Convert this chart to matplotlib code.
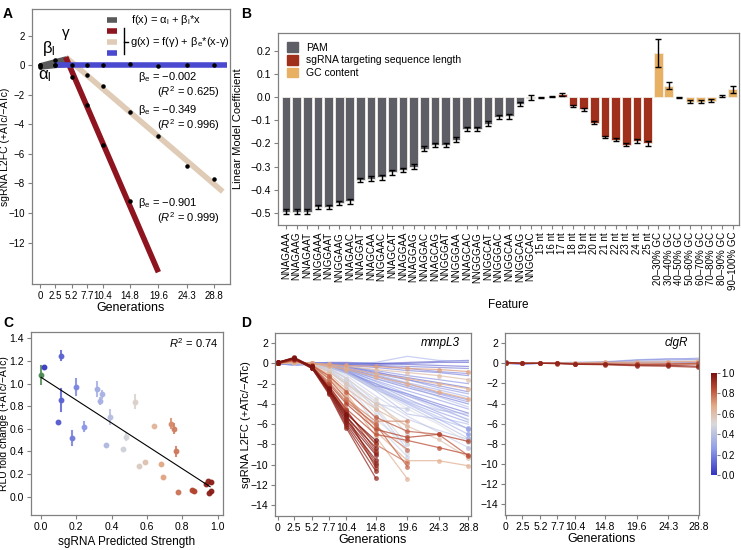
import numpy as np
import matplotlib
matplotlib.use("Agg")
import matplotlib.pyplot as plt
from matplotlib.colors import LinearSegmentedColormap, Normalize
from matplotlib.cm import ScalarMappable
from matplotlib.patches import Patch

plt.rcParams['font.family'] = ['Liberation Sans', 'DejaVu Sans']
plt.rcParams['mathtext.fontset'] = 'custom'
plt.rcParams['mathtext.rm'] = 'Liberation Sans'
plt.rcParams['mathtext.it'] = 'Liberation Sans:italic'
plt.rcParams['axes.edgecolor'] = '#808080'
plt.rcParams['axes.linewidth'] = 0.9
plt.rcParams['xtick.color'] = '#808080'
plt.rcParams['ytick.color'] = '#808080'
plt.rcParams['xtick.labelcolor'] = 'black'
plt.rcParams['ytick.labelcolor'] = 'black'

# ---- data ----
gens = [0, 2.5, 5.2, 7.7, 10.4, 14.8, 19.6, 24.3, 28.8]
gen_labels = ['0', '2.5', '5.2', '7.7', '10.4', '14.8', '19.6', '24.3', '28.8']

# panel A: example sgRNAs (dots) and piecewise fits
a_init_x = [0, 0, 2.5, 2.5]
a_init_y = [0.0, -0.12, 0.35, 0.02]
a_weak = [0.0, 0.0, 0.02, 0.02, 0.02, 0.05, -0.05, -0.02, 0.02]
a_mid = [np.nan, np.nan, np.nan, -0.69, -1.4, -3.16, -4.8, -6.8, -7.69]
a_strong = [np.nan, np.nan, -0.82, -2.67, -5.4, -9.16, np.nan, np.nan, np.nan]
lag_x = [0, 4.2]
lag_lo = [-0.18, 0.0]
lag_hi = [0.1, 0.55]
fit_weak_x, fit_weak_y = [2.5, 31.0], [0.02, 0.02]
fit_mid_x, fit_mid_y = [4.2, 30.3], [0.55, -8.55]
fit_strong_x, fit_strong_y = [4.2, 19.6], [0.55, -14.0]
beta_e = ['\u22120.002', '\u22120.349', '\u22120.901']
r2_vals = ['0.625', '0.996', '0.999']

# panel B: linear model coefficients
features = ['NNAGAAA', 'NNAGAAG', 'NNAGAAT', 'NNGGAAA', 'NNGGAAT', 'NNGGAAG', 'NNAGAAC',
            'NNAGGAT', 'NNAGCAA', 'NNGGAAC', 'NNAGCAT', 'NNAGGAA', 'NNAGGAG', 'NNAGGAC',
            'NNAGCAG', 'NNGGGAT', 'NNGGGAA', 'NNAGCAC', 'NNGGGAG', 'NNGGCAT', 'NNGGGAC',
            'NNGGCAA', 'NNGGCAG', 'NNGGCAC',
            '15 nt', '16 nt', '17 nt', '18 nt', '19 nt', '20 nt', '21 nt', '22 nt', '23 nt',
            '24 nt', '25 nt',
            '20\u201330% GC', '30\u201340% GC', '40\u201350% GC', '50\u201360% GC',
            '60\u201370% GC', '70\u201380% GC', '80\u201390% GC', '90\u2013100% GC']
pam_coef = [-0.495, -0.495, -0.495, -0.475, -0.475, -0.458, -0.45, -0.358, -0.352, -0.347,
            -0.325, -0.315, -0.30, -0.222, -0.207, -0.207, -0.183, -0.137, -0.137, -0.114,
            -0.085, -0.083, -0.03, -0.002]
len_coef = [0.0, 0.003, 0.012, -0.038, -0.053, -0.11, -0.172, -0.183, -0.205, -0.188, -0.2]
gc_coef = [0.19, 0.05, 0.0, -0.02, -0.02, -0.015, 0.004, 0.035]
pam_err = [0.01] * 24
len_err = [0.002, 0.002, 0.006, 0.005, 0.006, 0.006, 0.006, 0.006, 0.008, 0.008, 0.01]
gc_err = [0.06, 0.015, 0.002, 0.007, 0.007, 0.006, 0.005, 0.015]

# panel C: luciferase validation
c_strength = [0.0, 0.017, 0.115, 0.113, 0.096, 0.177, 0.2, 0.243, 0.319, 0.336, 0.347, 0.39,
              0.366, 0.466, 0.481, 0.534, 0.553, 0.59, 0.638, 0.68, 0.689, 0.734, 0.753, 0.762,
              0.774, 0.857, 0.866, 0.936, 0.943, 0.96, 0.951, 0.962]
c_rlu = [1.076, 1.143, 1.247, 0.855, 0.657, 0.519, 0.97, 0.619, 0.952, 0.846, 0.905, 0.704,
         0.454, 0.421, 0.53, 0.84, 0.271, 0.304, 0.622, 0.289, 0.177, 0.643, 0.601, 0.401,
         0.041, 0.059, 0.053, 0.109, 0.141, 0.13, 0.032, 0.05]
c_err = [0.077, 0.0, 0.04, 0.1, 0.0, 0.06, 0.07, 0.04, 0.06, 0.03, 0.03, 0.06, 0.0, 0.0, 0.03,
         0.06, 0.0, 0.0, 0.0, 0.0, 0.0, 0.04, 0.04, 0.04, 0.0, 0.0, 0.0, 0.0, 0.0, 0.0, 0.0, 0.0]
c_fit = [1.055, -1.01]   # intercept, slope
c_fit_x = [0.0, 0.957]

# panel D: sgRNA depletion curves
mmpl3_strength = [0.99, 0.98, 0.97, 0.96, 0.95, 0.94, 0.93, 0.92, 0.91, 0.90, 0.89, 0.87,
                  0.86, 0.84, 0.80, 0.78, 0.82, 0.76, 0.74,
                  0.66, 0.62, 0.64, 0.70, 0.66, 0.60, 0.68, 0.58,
                  0.50, 0.52, 0.48, 0.46,
                  0.38, 0.36, 0.40, 0.30, 0.35, 0.32, 0.34, 0.40, 0.42, 0.28, 0.37, 0.33,
                  0.05, 0.10, 0.15, 0.12, 0.18, 0.20, 0.15, 0.08, 0.02, 0.22, 0.25, 0.10,
                  0.08, 0.30, 0.05, 0.12, 0.03, 0.18, 0.24, 0.14, 0.26, 0.20]
mmpl3_l2fc = [
    [0.10, 0.55, -0.30, -2.40, -5.00, -7.60],
    [0.05, 0.50, -0.40, -2.60, -5.30, -8.30],
    [0.10, 0.60, -0.30, -2.50, -5.60, -9.00],
    [0.00, 0.45, -0.50, -2.80, -5.80, -9.50],
    [0.10, 0.50, -0.40, -2.70, -6.00, -10.00],
    [0.05, 0.55, -0.45, -2.90, -6.20, -10.60],
    [0.00, 0.50, -0.50, -3.00, -6.40, -11.30],
    [0.10, 0.50, -0.35, -2.50, -5.20, -8.80],
    [0.10, 0.55, -0.40, -2.60, -4.80, -7.90],
    [0.00, 0.45, -0.50, -2.70, -5.50, -9.80],
    [0.05, 0.50, -0.40, -2.40, -5.10, -10.30],
    [0.05, 0.45, -0.30, -2.20, -4.60, -8.60],
    [0.00, 0.40, -0.30, -2.00, -4.00, -6.50, -7.30, -7.00, -7.70],
    [0.00, 0.40, -0.40, -2.20, -4.50, -7.00, -7.60, -8.30, -9.00],
    [0.00, 0.30, -0.30, -1.80, -3.80, -6.00, -10.20],
    [0.00, 0.40, -0.40, -2.30, -4.80, -8.00, -9.80],
    [0.00, 0.30, -0.20, -1.20, -2.80, -5.30, -6.70, -7.00, -9.10],
    [0.00, 0.30, -0.20, -1.50, -3.50, -6.20, -8.50],
    [0.00, 0.30, -0.20, -1.50, -3.50, -5.70, -5.70],
    [0.00, 0.30, -0.10, -1.20, -3.00, -6.70, -9.60, -9.60, -10.10],
    [0.00, 0.20, -0.20, -1.00, -2.50, -4.50, -6.20],
    [0.00, 0.30, -0.20, -1.30, -3.20, -7.20, -11.40],
    [0.00, 0.10, 0.00, -0.10, -0.20, -0.30, -0.50, -0.60, -0.80],
    [0.00, 0.10, 0.00, -0.20, -0.50, -1.00, -1.50, -2.00, -2.50],
    [0.00, 0.10, 0.00, -0.10, -0.30, -0.60, -0.90, -1.20, -1.60],
    [0.00, 0.20, 0.00, -0.30, -0.60, -1.30, -2.00, -2.80, -3.50],
    [0.00, 0.20, -0.10, -0.80, -2.00, -4.00, -6.20, -7.50, -9.30],
    [0.00, 0.10, -0.10, -0.80, -2.00, -4.30, -8.00],
    [0.00, 0.10, 0.00, -0.50, -1.50, -3.50, -7.00],
    [0.00, 0.10, 0.00, -0.30, -1.00, -2.50, -4.50, -6.00, -7.80],
    [0.00, 0.05, 0.00, -0.60, -1.80, -5.00, -8.80],
    [0.00, 0.00, -0.10, -0.60, -1.80, -4.00, -4.50],
    [0.00, 0.00, 0.00, -0.50, -1.50, -4.50, -8.50],
    [0.00, 0.00, -0.10, -0.80, -2.20, -6.00, -9.20],
    [0.00, 0.00, 0.00, -0.30, -1.00, -2.70, -5.00, -5.50, -6.40],
    [0.00, 0.00, 0.00, -0.20, -0.70, -2.00, -3.20, -4.50, -5.50],
    [0.00, 0.00, 0.00, -0.10, -0.50, -1.50, -2.20, -3.30, -4.30],
    [0.00, 0.00, 0.00, -0.20, -0.80, -2.50, -4.20, -5.80, -7.40],
    [0.00, 0.00, -0.10, -0.40, -1.20, -3.20, -5.20, -6.80, -8.30],
    [0.00, 0.00, -0.10, -0.70, -2.00, -5.50, -8.00],
    [0.00, 0.00, 0.10, 0.00, 0.00, 0.10, 0.70, 0.30, 0.20],
    [0.00, -0.10, -0.10, -0.50, -1.40, -3.80, -5.50, -6.60, -7.50],
    [0.00, 0.00, 0.00, -0.30, -0.90, -2.20, -3.70, -4.60, -5.00],
    [0.00, 0.00, 0.00, 0.00, 0.00, 0.00, 0.10, 0.20, 0.30],
    [0.00, 0.00, 0.00, -0.10, -0.20, -0.40, -0.70, -0.90, -1.20],
    [0.00, 0.00, 0.00, -0.10, -0.30, -0.70, -1.20, -1.60, -2.00],
    [0.00, 0.00, 0.00, -0.20, -0.40, -1.00, -1.60, -2.20, -2.80],
    [0.00, 0.00, 0.00, -0.20, -0.50, -1.30, -2.20, -3.00, -3.80],
    [0.00, 0.00, 0.00, -0.30, -0.70, -1.70, -2.70, -3.60, -4.50],
    [0.00, -0.10, -0.10, -0.40, -0.90, -2.00, -3.20, -4.20, -5.20],
    [0.00, 0.00, 0.00, -0.10, -0.10, -0.20, -0.30, -0.40, -0.50],
    [0.00, 0.00, 0.10, 0.00, 0.00, -0.10, 0.00, 0.10, 0.10],
    [0.00, -0.20, -0.10, -0.30, -0.80, -2.30, -3.80, -5.00, -6.50],
    [0.00, 0.00, 0.00, -0.10, -0.40, -1.10, -1.90, -2.60, -3.30],
    [0.00, 0.00, 0.00, -0.20, -0.60, -1.50, -2.40, -3.20, -4.00],
    [0.00, 0.00, 0.00, -0.20, -0.70, -2.20, -3.00, -4.00, -4.90],
    [0.00, 0.00, 0.00, -0.30, -1.00, -2.60, -3.90, -5.30, -6.00],
    [0.00, 0.00, 0.00, -0.10, -0.30, -0.90, -1.40, -1.90, -2.40],
    [0.00, -0.10, 0.00, 0.00, -0.10, -0.20, -0.50, -0.80, -1.00],
    [0.00, 0.00, 0.00, 0.10, 0.10, 0.00, -0.10, -0.20, -0.30],
    [0.00, 0.00, 0.00, -0.10, -0.30, -0.80, -1.60, -2.40, -3.00],
    [0.00, 0.00, 0.00, -0.20, -0.60, -1.80, -3.00, -4.30, -5.60],
    [0.00, -0.10, 0.00, -0.20, -0.50, -1.20, -2.00, -2.90, -3.60],
    [0.00, 0.00, 0.00, -0.30, -0.90, -2.40, -4.00, -5.50, -7.00],
    [0.00, -0.20, 0.00, -0.20, -0.80, -2.00, -3.50, -4.80, -5.80],
]
clgr_strength = [0.30, 0.15, 0.95, 0.90, 0.70, 0.60, 0.10, 0.45, 0.80, 0.20, 0.85]
clgr_l2fc = [
    [0.00, 0.00, 0.00, 0.00, 0.00, 0.10, 0.20, 0.30, 0.40],
    [0.00, -0.10, 0.00, 0.00, 0.00, 0.10, 0.30, 0.40, 0.50],
    [0.10, 0.00, 0.00, 0.00, -0.10, -0.10, -0.20, -0.20, -0.30],
    [0.00, 0.00, 0.00, -0.05, -0.10, -0.15, -0.25, -0.30, -0.40],
    [0.00, 0.00, 0.00, 0.00, 0.05, 0.10, 0.10, 0.15, 0.20],
    [0.00, 0.00, 0.00, 0.00, 0.00, 0.05, 0.00, 0.00, 0.00],
    [0.00, -0.10, 0.00, 0.00, 0.00, 0.05, 0.10, 0.10, 0.05],
    [0.00, 0.00, 0.05, 0.00, -0.05, 0.00, 0.20, 0.30, 0.20],
    [0.00, 0.00, 0.00, 0.00, -0.05, -0.10, -0.10, -0.15, -0.10],
    [0.00, -0.05, 0.00, 0.05, 0.10, 0.15, 0.35, 0.45, 0.35],
    [0.05, 0.00, 0.00, 0.00, -0.05, -0.05, -0.10, -0.05, 0.00],
]

# ---- styling helpers ----
cmap = LinearSegmentedColormap.from_list(
    'strength', [(0.0, '#3434c0'), (0.25, '#8d9ce8'), (0.5, '#d9d9d9'),
                 (0.68, '#e3aa88'), (0.85, '#b94a32'), (1.0, '#7a1010')])
norm = Normalize(0, 1)
gray_c = '#5d5e66'
len_c = '#a0301c'
gc_c = '#e8b062'


def style(ax, fs=7.5):
    ax.tick_params(labelsize=fs, length=3, width=0.8, pad=2)
    for s in ax.spines.values():
        s.set_color('#808080')


fig = plt.figure(figsize=(7.41, 5.5), dpi=100)

# ---- A ----
ax = fig.add_axes([0.0432, 0.4836, 0.2672, 0.5])
ax.fill_between(lag_x, lag_lo, lag_hi, color='#5a5a5a', lw=2, edgecolor='#5a5a5a', zorder=2)
ax.plot(fit_weak_x, fit_weak_y, color='#4a4ad0', lw=4, solid_capstyle='butt', zorder=3)
ax.plot(fit_mid_x, fit_mid_y, color='#dfcbb6', lw=4, solid_capstyle='butt', zorder=2)
ax.plot(fit_strong_x, fit_strong_y, color='#8e1520', lw=4, solid_capstyle='butt', zorder=2)
ax.scatter(a_init_x, a_init_y, s=5, color='black', zorder=5)
for ys in [a_weak, a_mid, a_strong]:
    ax.scatter(gens, ys, s=5, color='black', zorder=5)
ax.set_xlim(-1.4, 31.5)
ax.set_ylim(-14.8, 3.8)
ax.set_xticks(gens)
ax.set_xticklabels(gen_labels)
ax.set_yticks(np.arange(-12, 3, 2))
style(ax, 7)
ax.set_xlabel('Generations', fontsize=9, labelpad=1)
ax.set_ylabel('sgRNA L2FC (+ATc/\u2212ATc)', fontsize=7.5)
ax.yaxis.set_label_coords(-0.112, 0.5)
ax.text(0.3, 1.15, r'$\mathregular{\beta_l}$', fontsize=12, va='center')
ax.text(-0.4, -0.75, r'$\mathregular{\alpha_l}$', fontsize=12, va='center')
ax.text(3.4, 2.1, r'$\mathregular{\gamma}$', fontsize=11, va='center')
lab_y = [(-0.8, -1.85), (-3.0, -4.05), (-9.3, -10.35)]
for be, r2, (y1, y2) in zip(beta_e, r2_vals, lab_y):
    ax.text(16.2, y1, r'$\mathregular{\beta_e}$ = ' + be, fontsize=8, va='center')
    ax.text(19.3, y2, '($R^2$ = ' + r2 + ')', fontsize=8, va='center')
# legend
for yy, c in zip([0.96, 0.92, 0.881, 0.84], ['#5a5a5a', '#8e1520', '#dfcbb6', '#4a4ad0']):
    ax.plot([0.377, 0.43], [yy, yy], transform=ax.transAxes, color=c, lw=4,
            solid_capstyle='butt')
ax.plot([0.466, 0.466], [0.93, 0.835], transform=ax.transAxes, color='black', lw=1)
ax.plot([0.466, 0.485], [0.881, 0.881], transform=ax.transAxes, color='black', lw=1)
ax.text(0.50, 0.96, r'f(x) = $\mathregular{\alpha_l}$ + $\mathregular{\beta_l}$*x',
        transform=ax.transAxes, fontsize=8, va='center')
ax.text(0.495, 0.881,
        r'g(x) = f($\mathregular{\gamma}$) + $\mathregular{\beta_e}$*(x-$\mathregular{\gamma}$)',
        transform=ax.transAxes, fontsize=8, va='center')

# ---- B ----
ax = fig.add_axes([0.3752, 0.5909, 0.6221, 0.3491])
coef = pam_coef + len_coef + gc_coef
err = pam_err + len_err + gc_err
cols = [gray_c] * len(pam_coef) + [len_c] * len(len_coef) + [gc_c] * len(gc_coef)
xs = np.arange(len(features))
ax.bar(xs, coef, width=0.82, color=cols, edgecolor='#f2eee8', linewidth=0.6)
ax.errorbar(xs, coef, yerr=err, fmt='none', ecolor='black', elinewidth=1, capsize=2,
            capthick=1)
ax.set_xlim(-0.75, 42.6)
ax.set_ylim(-0.553, 0.278)
ax.set_xticks(xs)
ax.set_xticklabels(features, rotation=90, fontsize=7)
ax.set_yticks([-0.5, -0.4, -0.3, -0.2, -0.1, 0.0, 0.1, 0.2])
style(ax, 7.5)
ax.tick_params(axis='x', labelsize=7)
ax.set_xlabel('Feature', fontsize=8.5, labelpad=6)
ax.set_ylabel('Linear Model Coefficient', fontsize=8)
ax.yaxis.set_label_coords(-0.075, 0.5)
handles = [Patch(color=gray_c), Patch(color=len_c), Patch(color=gc_c)]
ax.legend(handles, ['PAM', 'sgRNA targeting sequence length', 'GC content'],
          loc='upper left', bbox_to_anchor=(0.0, 1.0), frameon=False, fontsize=7.5,
          handlelength=1.0, handleheight=1.0, labelspacing=0.25, borderaxespad=0.5)

# ---- C ----
ax = fig.add_axes([0.0418, 0.0636, 0.2591, 0.3327])
for i, (xv, yv, ev) in enumerate(zip(c_strength, c_rlu, c_err)):
    c = '#4f8a55' if i == 0 else cmap(norm(xv))
    if ev > 0:
        ax.plot([xv, xv], [yv - ev, yv + ev], color=c, lw=1.5, alpha=0.85)
    ax.plot(xv, yv, 'o', ms=3.2, color=c, alpha=0.95)
fx = np.array(c_fit_x)
ax.plot(fx, c_fit[0] + c_fit[1] * fx, color='black', lw=0.8)
ax.set_xlim(-0.057, 1.03)
ax.set_ylim(-0.162, 1.455)
ax.set_xticks([0, 0.2, 0.4, 0.6, 0.8, 1.0])
ax.set_yticks([0, 0.2, 0.4, 0.6, 0.8, 1.0, 1.2, 1.4])
ax.xaxis.set_major_formatter(matplotlib.ticker.FormatStrFormatter('%.1f'))
ax.yaxis.set_major_formatter(matplotlib.ticker.FormatStrFormatter('%.1f'))
style(ax, 7.5)
ax.set_xlabel('sgRNA Predicted Strength', fontsize=8.5, labelpad=3)
ax.set_ylabel('RLU fold change (+ATc/\u2212ATc)', fontsize=7.5)
ax.yaxis.set_label_coords(-0.112, 0.5)
ax.text(0.72, 0.94, '$R^2$ = 0.74', transform=ax.transAxes, fontsize=8, va='center')


# ---- D ----
def draw_lines(ax, strengths, curves):
    order = np.argsort(strengths, kind='stable')
    for i in order:
        ys = np.full(len(gens), np.nan)
        ys[:len(curves[i])] = curves[i]
        c = cmap(norm(strengths[i]))
        early = len(curves[i]) < len(gens)
        marked = early or strengths[i] >= 0.55
        a = 0.75 if strengths[i] >= 0.5 else 0.5
        ax.plot(gens, ys, color=c, lw=0.9, alpha=a,
                marker='o' if marked else None, ms=3.5, mew=0)
        if not marked and ys[-1] < -6:
            ax.plot(gens[-1], ys[-1], 'o', color=c, ms=3.5, mew=0, alpha=0.8)


for k, (pos, strengths, curves, name) in enumerate([
        ([0.3711, 0.0618, 0.2645, 0.3327], mmpl3_strength, mmpl3_l2fc, 'mmpL3'),
        ([0.6815, 0.0636, 0.2618, 0.3309], clgr_strength, clgr_l2fc, 'clgR')]):
    ax = fig.add_axes(pos)
    draw_lines(ax, strengths, curves)
    ax.set_xlim(-0.4 if k == 0 else -0.1, 29.2 if k == 0 else 28.9)
    ax.set_ylim(-15.06, 3.0)
    ax.set_xticks(gens)
    ax.set_xticklabels(gen_labels)
    ax.set_yticks(np.arange(-14, 3, 2))
    style(ax, 7.5)
    ax.set_xlabel('Generations', fontsize=9, labelpad=1)
    if k == 0:
        ax.set_ylabel('sgRNA L2FC (+ATc/\u2212ATc)', fontsize=8)
        ax.yaxis.set_label_coords(-0.12, 0.5)
    ax.text(0.945, 0.945, name, transform=ax.transAxes, fontsize=8.5, style='italic',
            ha='right', va='center')

cax = fig.add_axes([0.9595, 0.1364, 0.0081, 0.1855])
cb = fig.colorbar(ScalarMappable(norm=norm, cmap=cmap), cax=cax)
cb.set_ticks([0, 0.2, 0.4, 0.6, 0.8, 1.0])
cb.set_ticklabels(['0.0', '0.2', '0.4', '0.6', '0.8', '1.0'])
cb.outline.set_visible(False)
cax.tick_params(labelsize=7, length=2, pad=1)

# panel letters
for lab, (x, y) in zip('ABCD', [(0.004, 0.988), (0.325, 0.988), (0.004, 0.425), (0.325, 0.425)]):
    fig.text(x, y, lab, fontsize=10, fontweight='bold', va='top')

fig.savefig('out.png', dpi=100)
